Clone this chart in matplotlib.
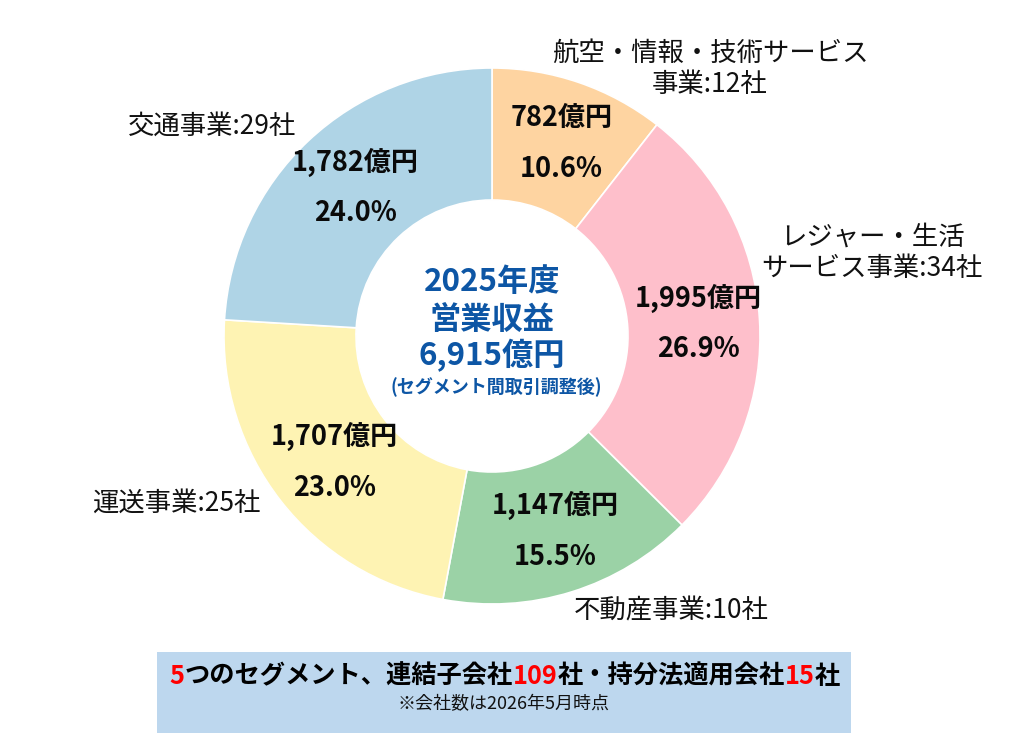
import matplotlib
matplotlib.use("Agg")
import matplotlib.pyplot as plt
import numpy as np
from matplotlib.patches import Rectangle

# ---- data ----
segments = ["航空・情報・技術サービス\n事業:12社", "レジャー・生活\nサービス事業:34社",
            "不動産事業:10社", "運送事業:25社", "交通事業:29社"]
values = [782, 1995, 1147, 1707, 1782]
value_labels = ["782億円", "1,995億円", "1,147億円", "1,707億円", "1,782億円"]
pct_labels = ["10.6%", "26.9%", "15.5%", "23.0%", "24.0%"]
colors = ["#fed4a1", "#febfcb", "#9bd2a6", "#fef3b3", "#afd4e6"]
center_lines = ["2025年度", "営業収益", "6,915億円"]
center_note = "(セグメント間取引調整後)"
footer_pieces = [("5", "red"), ("つのセグメント、連結子会社", "black"), ("109", "red"),
                 ("社・持分法適用会社", "black"), ("15", "red"), ("社", "black")]
footer_note = "※会社数は2026年5月時点"

FAM = ["Noto Sans CJK JP", "DejaVu Sans"]
W, H = 1009, 750
fig = plt.figure(figsize=(W / 100, H / 100), dpi=100)
ax = fig.add_axes([0, 0, 1, 1])

def P(py):
    return H - py

cx, cy = 492, 336
R, ring = 268, 132
wedges, _ = ax.pie(values, colors=colors, startangle=90, counterclock=False,
                   radius=R, center=(cx, P(cy)),
                   wedgeprops=dict(width=ring, edgecolor="white", linewidth=1.2))
ax.set_xlim(0, W)
ax.set_ylim(0, H)
ax.set_aspect("equal")
ax.axis("off")

# inside labels
rl = 204
for w, v, p in zip(wedges, value_labels, pct_labels):
    ang = np.deg2rad((w.theta1 + w.theta2) / 2)
    x = cx + rl * np.cos(ang)
    y = P(cy) + rl * np.sin(ang)
    ax.text(x + 3, y + 25, v, ha="center", va="center", fontsize=19.5, fontweight="bold",
            family=FAM, color="#0a0a0a")
    ax.text(x + 3, y - 26, p, ha="center", va="center", fontsize=19.5, fontweight="bold",
            family=FAM, color="#0a0a0a")

# outside labels (layout positions)
label_pos = [(710, 69), (872, 253), (671, 611), (176, 503), (212, 126)]
for name, (lx, ly) in zip(segments, label_pos):
    ax.text(lx, P(ly), name, ha="center", va="center", fontsize=19, family=FAM,
            color="#111111", linespacing=1.2)

# center text
blue = "#0d56a5"
for s, py in zip(center_lines, [282, 320, 356]):
    ax.text(cx, P(py), s, ha="center", va="center", fontsize=22.5, fontweight="bold",
            family=FAM, color=blue)
ax.text(cx + 4, P(387), center_note, ha="center", va="center", fontsize=13,
        fontweight="bold", family=FAM, color=blue)

# footer box
ax.add_patch(Rectangle((157, P(733)), 851 - 157, 733 - 652, facecolor="#bdd7ee",
                       edgecolor="none", zorder=0))
r = fig.canvas.get_renderer()
widths = []
for s, c in footer_pieces:
    t = ax.text(0, 0, s, fontsize=18.2, fontweight="bold", family=FAM)
    widths.append(t.get_window_extent(r).width)
    t.remove()
x0 = 505 - sum(widths) / 2
for (s, c), wd in zip(footer_pieces, widths):
    ax.text(x0, P(676), s, ha="left", va="center", fontsize=18.2, fontweight="bold",
            family=FAM, color=c)
    x0 += wd
ax.text(504, P(704), footer_note, ha="center", va="center", fontsize=13,
        family=FAM, color="#111111")

fig.savefig("out.png", dpi=100)
